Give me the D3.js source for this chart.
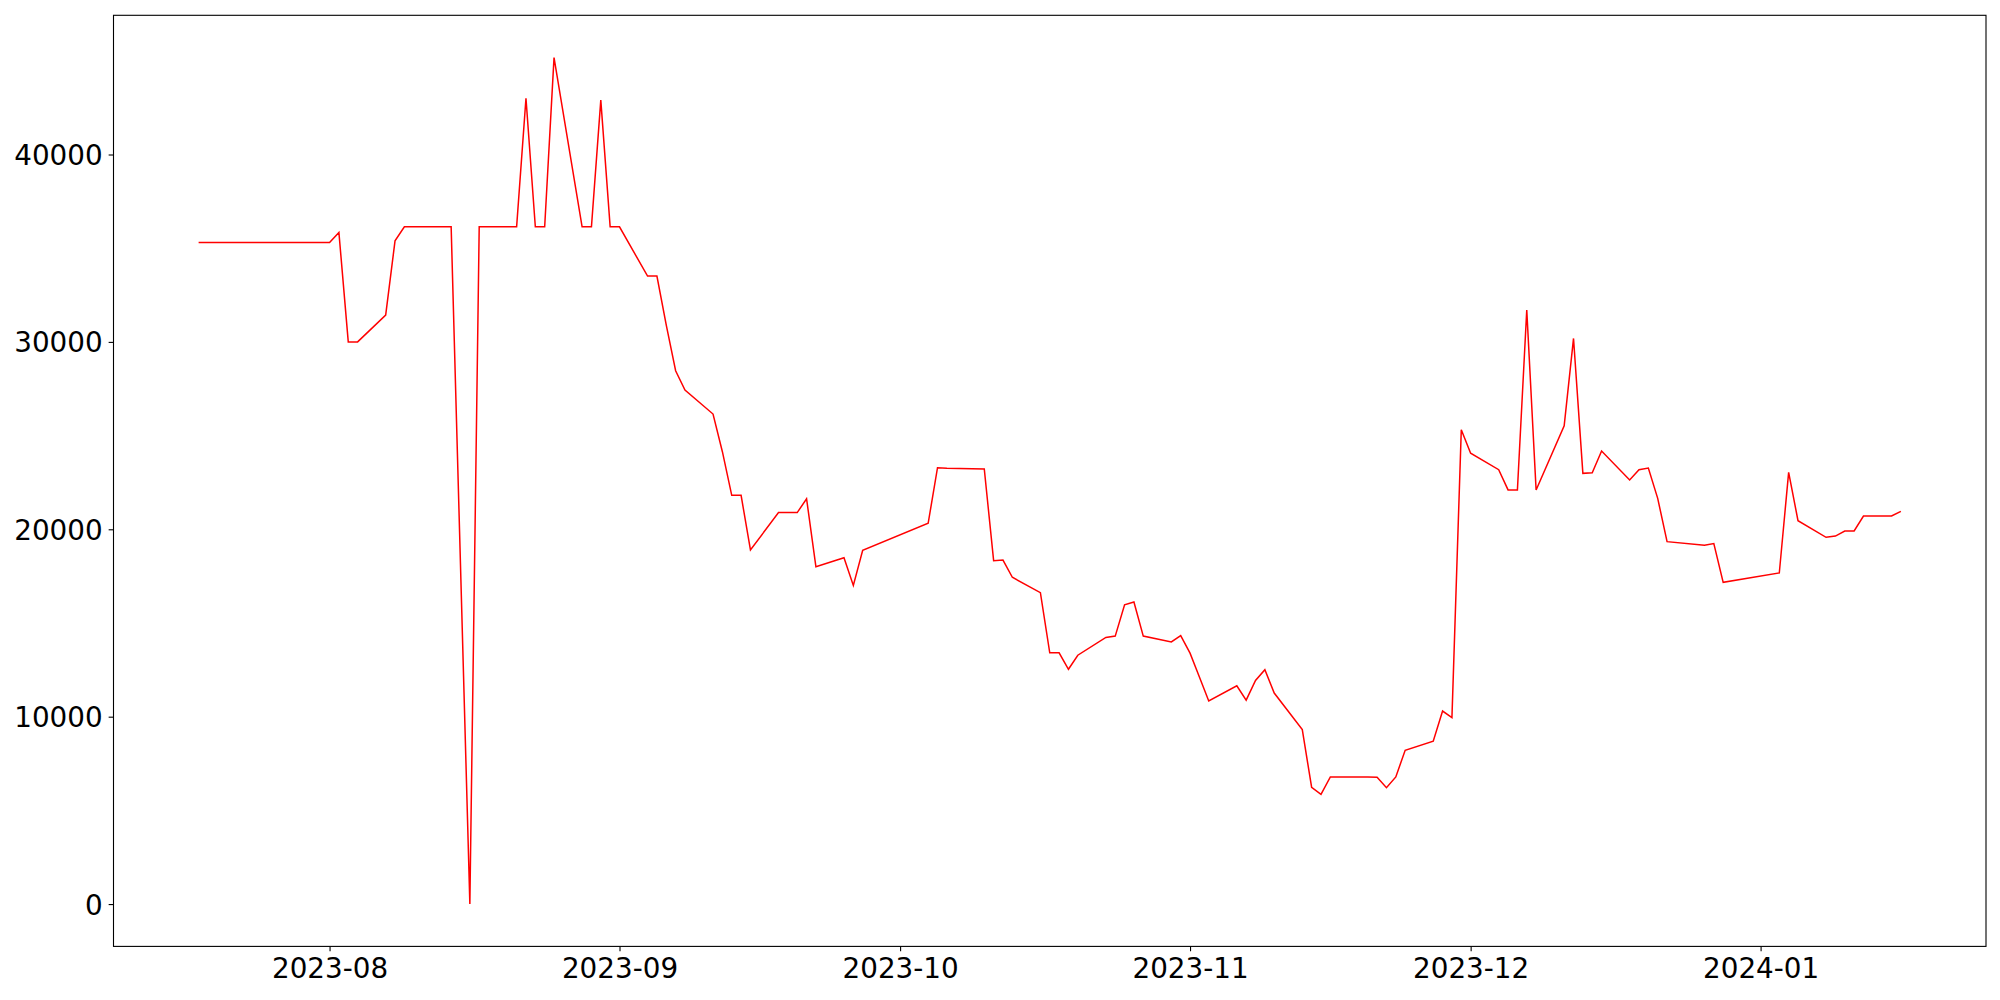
<!DOCTYPE html>
<html>
<head>
<meta charset="utf-8">
<script src="https://cdn.jsdelivr.net/npm/d3@7"></script>
<style>
  html, body { margin: 0; padding: 0; background: #fff; }
  svg { display: block; }
  text { font-family: "DejaVu Sans", sans-serif; }
</style>
</head>
<body>
<svg id="chart" width="2000" height="1000"></svg>
<script>
// ---- data (business days) ----
const dates = [
  "2023-07-18","2023-07-19","2023-07-20","2023-07-21","2023-07-24","2023-07-25","2023-07-26","2023-07-27","2023-07-28","2023-07-31",
  "2023-08-01","2023-08-02","2023-08-03","2023-08-04","2023-08-07","2023-08-08","2023-08-09","2023-08-10","2023-08-11","2023-08-14",
  "2023-08-16","2023-08-17","2023-08-18","2023-08-21","2023-08-22","2023-08-23","2023-08-24","2023-08-25","2023-08-28","2023-08-29",
  "2023-08-30","2023-08-31","2023-09-01","2023-09-04","2023-09-05","2023-09-06","2023-09-07","2023-09-08","2023-09-11","2023-09-12",
  "2023-09-13","2023-09-14","2023-09-15","2023-09-18","2023-09-19","2023-09-20","2023-09-21","2023-09-22","2023-09-25","2023-09-26",
  "2023-09-27","2023-10-04","2023-10-05","2023-10-06","2023-10-10","2023-10-11","2023-10-12","2023-10-13","2023-10-16","2023-10-17",
  "2023-10-18","2023-10-19","2023-10-20","2023-10-23","2023-10-24","2023-10-25","2023-10-26","2023-10-27","2023-10-30","2023-10-31",
  "2023-11-01","2023-11-02","2023-11-03","2023-11-06","2023-11-07","2023-11-08","2023-11-09","2023-11-10","2023-11-13","2023-11-14",
  "2023-11-15","2023-11-16","2023-11-17","2023-11-20","2023-11-21","2023-11-22","2023-11-23","2023-11-24","2023-11-27","2023-11-28",
  "2023-11-29","2023-11-30","2023-12-01","2023-12-04","2023-12-05","2023-12-06","2023-12-07","2023-12-08","2023-12-11","2023-12-12",
  "2023-12-13","2023-12-14","2023-12-15","2023-12-18","2023-12-19","2023-12-20","2023-12-21","2023-12-22","2023-12-26","2023-12-27",
  "2023-12-28","2024-01-03","2024-01-04","2024-01-05","2024-01-08","2024-01-09","2024-01-10","2024-01-11","2024-01-12","2024-01-15",
  "2024-01-16"
];
const values = [
  35300,35300,35300,35300,35300,35300,35300,35300,35300,35300,
  35300,35840,30000,30000,31430,35390,36140,36140,36140,36140,
  0,36140,36140,36140,43000,36140,36140,45170,36140,36140,
  42900,36140,36140,33510,33510,30900,28460,27430,26150,24140,
  21810,21810,18900,20890,20890,20890,21630,18000,18485,17000,
  18880,20320,23285,23260,23215,18325,18360,17440,16620,13410,
  13410,12530,13280,14230,14300,15970,16120,14300,13990,14325,
  13390,12120,10840,11650,10885,11930,12510,11260,9310,6225,
  5850,6785,6785,6780,6770,6210,6785,8210,8690,10300,
  9950,25310,24060,23180,22100,22100,31700,22100,25525,30185,
  22985,23020,24175,22630,23180,23270,21650,19340,19145,19235,
  17170,17670,23040,20460,19573,19640,19910,19910,20710,20710,
  20960
];
const yTickValues = [0, 10000, 20000, 30000, 40000];
const xTickLabels = ["2023-08","2023-09","2023-10","2023-11","2023-12","2024-01"];

// ---- layout ----
const svg = d3.select("#chart");
const margin = { left: 113.5, top: 15.3, right: 14, bottom: 53.6 };
const W = 2000 - margin.left - margin.right;
const H = 1000 - margin.top - margin.bottom;
const g = svg.append("g").attr("transform", `translate(${margin.left},${margin.top})`);

const parse = d3.timeParse("%Y-%m-%d");
const data = dates.map((d, i) => ({ date: parse(d), value: values[i] }));

const xExt = d3.extent(data, d => d.date);
const xPad = (xExt[1] - xExt[0]) * 0.05;
const x = d3.scaleTime()
  .domain([new Date(+xExt[0] - xPad), new Date(+xExt[1] + xPad)])
  .range([0, W]);

const yExt = d3.extent(values);
const yPad = (yExt[1] - yExt[0]) * 0.05;
const y = d3.scaleLinear()
  .domain([yExt[0] - yPad, yExt[1] + yPad])
  .range([H, 0]);

const fontSize = 27.8;
const tickLen = 4.86;

// x axis
const xTicks = xTickLabels.map(s => d3.timeParse("%Y-%m")(s));
const xAxis = d3.axisBottom(x)
  .tickValues(xTicks)
  .tickFormat(d3.timeFormat("%Y-%m"))
  .tickSize(tickLen)
  .tickPadding(4.86);
const gx = g.append("g").attr("transform", `translate(0,${H})`).call(xAxis);
gx.select(".domain").remove();
gx.selectAll(".tick line").attr("stroke", "#000").attr("stroke-width", 1.1);
gx.selectAll(".tick text")
  .attr("font-size", fontSize)
  .attr("fill", "#000")
  .attr("dy", null)
  .attr("y", 32);

// y axis
const yAxis = d3.axisLeft(y)
  .tickValues(yTickValues)
  .tickFormat(d3.format("d"))
  .tickSize(tickLen)
  .tickPadding(6);
const gy = g.append("g").call(yAxis);
gy.select(".domain").remove();
gy.selectAll(".tick line").attr("stroke", "#000").attr("stroke-width", 1.1);
gy.selectAll(".tick text")
  .attr("font-size", fontSize)
  .attr("fill", "#000")
  .attr("dy", "0.36em");

// line
const line = d3.line().x(d => x(d.date)).y(d => y(d.value));
g.append("path")
  .datum(data)
  .attr("fill", "none")
  .attr("stroke", "#ff0000")
  .attr("stroke-width", 1.5)
  .attr("stroke-linejoin", "miter")
  .attr("d", line);

// frame (spines)
g.append("rect")
  .attr("x", 0).attr("y", 0)
  .attr("width", W).attr("height", H)
  .attr("fill", "none")
  .attr("stroke", "#000")
  .attr("stroke-width", 1.1);
</script>
</body>
</html>
